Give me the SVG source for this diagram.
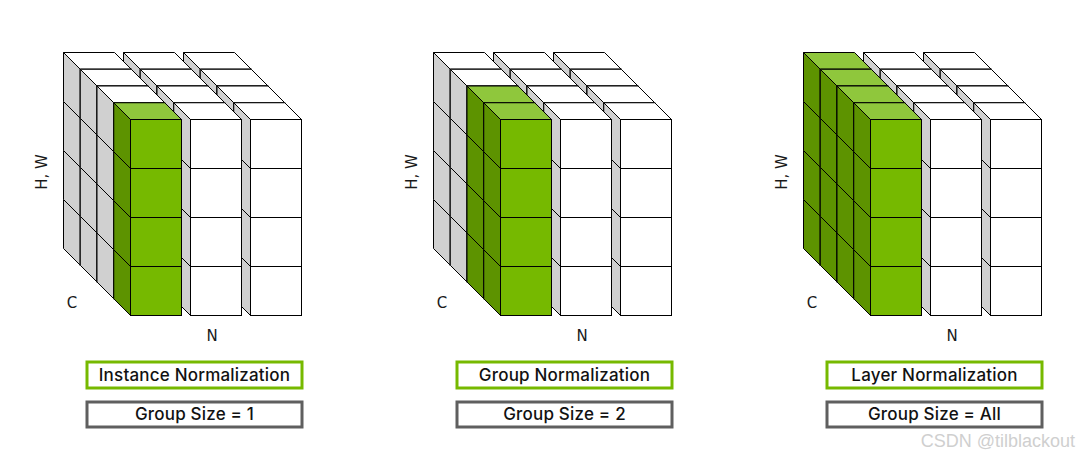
<svg xmlns="http://www.w3.org/2000/svg" xmlns:xlink="http://www.w3.org/1999/xlink" width="1080" height="465" viewBox="0 0 1080 465">
<style>
.edge{stroke:#000;stroke-width:1;stroke-linejoin:miter}
.lbl{font-family:Inter,"DejaVu Sans",sans-serif;font-size:17px;font-weight:500;letter-spacing:0.2px;fill:#111}
.axis{font-family:"DejaVu Sans","Noto Sans",sans-serif;font-size:15px;fill:#1a1a1a}
.boxg{fill:#fff;stroke:#76b900;stroke-width:3}
.boxk{fill:#fff;stroke:#5f5f5f;stroke-width:3}
.wm{font-family:"Liberation Sans",Arial,sans-serif;font-size:18px;fill:#cfcfcf}
</style>
<defs>
<g id="cubeW" class="edge">
<polygon points="0,0 -16.75,-16.75 -16.75,32.25 0,49" fill="#d0d0d0"/>
<polygon points="0,0 51,0 34.25,-16.75 -16.75,-16.75" fill="#ffffff"/>
<rect x="0" y="0" width="51" height="49" fill="#ffffff"/>
</g>
<g id="cubeG" class="edge">
<polygon points="0,0 -16.75,-16.75 -16.75,32.25 0,49" fill="#5d9300"/>
<polygon points="0,0 51,0 34.25,-16.75 -16.75,-16.75" fill="#8fc73c"/>
<rect x="0" y="0" width="51" height="49" fill="#76b900"/>
</g>
<g id="colW">
<use href="#cubeW" y="147"/><use href="#cubeW" y="98"/><use href="#cubeW" y="49"/><use href="#cubeW" y="0"/>
</g>
<g id="colG">
<use href="#cubeG" y="147"/><use href="#cubeG" y="98"/><use href="#cubeG" y="49"/><use href="#cubeG" y="0"/>
</g>
</defs>
<rect width="1080" height="465" fill="#ffffff"/>

<g id="panel-instance">
<g id="tensor-instance">
<use href="#colW" x="200.25" y="69.25"/><use href="#colW" x="140.25" y="69.25"/><use href="#colW" x="80.25" y="69.25"/>
<use href="#colW" x="217" y="86"/><use href="#colW" x="157" y="86"/><use href="#colW" x="97" y="86"/>
<use href="#colW" x="233.75" y="102.75"/><use href="#colW" x="173.75" y="102.75"/><use href="#colW" x="113.75" y="102.75"/>
<use href="#colW" x="250.5" y="119.5"/><use href="#colW" x="190.5" y="119.5"/><use href="#colG" x="130.5" y="119.5"/>
</g>
<text class="axis" x="47" y="172" text-anchor="middle" transform="rotate(-90 47 172)">H, W</text>
<text class="axis" x="72" y="308" text-anchor="middle">C</text>
<text class="axis" x="212" y="341" text-anchor="middle">N</text>
<g id="label-instance"><rect class="boxg" x="87" y="362" width="215" height="26"/><text class="lbl" x="194.5" y="381" text-anchor="middle">Instance Normalization</text></g>
<g id="size-instance"><rect class="boxk" x="87" y="402" width="215" height="25"/><text class="lbl" x="194.5" y="420" text-anchor="middle">Group Size = 1</text></g>
</g>

<g id="panel-group" transform="translate(370 0)">
<g id="tensor-group">
<use href="#colW" x="200.25" y="69.25"/><use href="#colW" x="140.25" y="69.25"/><use href="#colW" x="80.25" y="69.25"/>
<use href="#colW" x="217" y="86"/><use href="#colW" x="157" y="86"/><use href="#colW" x="97" y="86"/>
<use href="#colW" x="233.75" y="102.75"/><use href="#colW" x="173.75" y="102.75"/><use href="#colG" x="113.75" y="102.75"/>
<use href="#colW" x="250.5" y="119.5"/><use href="#colW" x="190.5" y="119.5"/><use href="#colG" x="130.5" y="119.5"/>
</g>
<text class="axis" x="47" y="172" text-anchor="middle" transform="rotate(-90 47 172)">H, W</text>
<text class="axis" x="72" y="308" text-anchor="middle">C</text>
<text class="axis" x="212" y="341" text-anchor="middle">N</text>
<g id="label-group"><rect class="boxg" x="87" y="362" width="215" height="26"/><text class="lbl" x="194.5" y="381" text-anchor="middle">Group Normalization</text></g>
<g id="size-group"><rect class="boxk" x="87" y="402" width="215" height="25"/><text class="lbl" x="194.5" y="420" text-anchor="middle">Group Size = 2</text></g>
</g>

<g id="panel-layer" transform="translate(740 0)">
<g id="tensor-layer">
<use href="#colW" x="200.25" y="69.25"/><use href="#colW" x="140.25" y="69.25"/><use href="#colG" x="80.25" y="69.25"/>
<use href="#colW" x="217" y="86"/><use href="#colW" x="157" y="86"/><use href="#colG" x="97" y="86"/>
<use href="#colW" x="233.75" y="102.75"/><use href="#colW" x="173.75" y="102.75"/><use href="#colG" x="113.75" y="102.75"/>
<use href="#colW" x="250.5" y="119.5"/><use href="#colW" x="190.5" y="119.5"/><use href="#colG" x="130.5" y="119.5"/>
</g>
<text class="axis" x="47" y="172" text-anchor="middle" transform="rotate(-90 47 172)">H, W</text>
<text class="axis" x="72" y="308" text-anchor="middle">C</text>
<text class="axis" x="212" y="341" text-anchor="middle">N</text>
<g id="label-layer"><rect class="boxg" x="87" y="362" width="215" height="26"/><text class="lbl" x="194.5" y="381" text-anchor="middle">Layer Normalization</text></g>
<g id="size-layer"><rect class="boxk" x="87" y="402" width="215" height="25"/><text class="lbl" x="194.5" y="420" text-anchor="middle">Group Size = All</text></g>
</g>

<text class="wm" x="1075" y="447" text-anchor="end">CSDN @tilblackout</text>
</svg>
